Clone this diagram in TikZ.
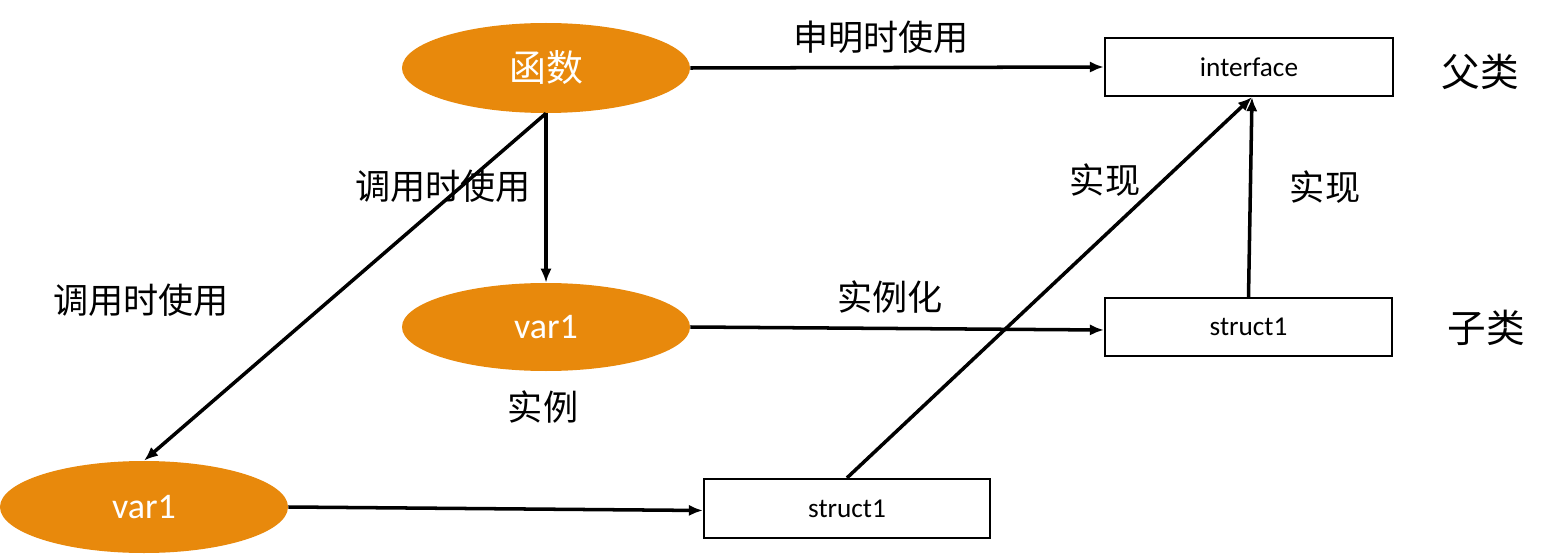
\documentclass[tikz,border=0pt]{standalone}
\usepackage{fontspec}
\setmainfont{Carlito}
\newfontfamily\cjk{Noto Sans CJK SC}
\usetikzlibrary{shapes.geometric,arrows.meta}
\definecolor{orng}{HTML}{E8890C}
\begin{document}
\begin{tikzpicture}[x=0.02cm,y=-0.02cm,
  ell/.style={ellipse,fill=orng,draw=none,inner sep=0pt,text=white},
  box/.style={rectangle,draw=black,line width=1.3pt,inner sep=0pt,font=\fontsize{15.5}{18}\selectfont},
  lbl/.style={font=\cjk\fontsize{20}{22}\selectfont},
  big/.style={font=\cjk\fontsize{22}{24}\selectfont},
  arr/.style={line width=2pt,-{Latex[length=8pt,width=6.5pt]}}]
\useasboundingbox (0,0) rectangle (1566,554);
\node[ell,minimum width=288*0.02cm,minimum height=90*0.02cm,font=\cjk\fontsize{21}{23}\selectfont] (fn) at (546,68) {函数};
\node[ell,minimum width=288*0.02cm,minimum height=88*0.02cm,font=\fontsize{20.5}{22}\selectfont] (v1) at (546,327) {var1};
\node[ell,minimum width=288*0.02cm,minimum height=92*0.02cm,font=\fontsize{20.5}{22}\selectfont] (v2) at (144,507) {var1};
\node[box,minimum width=288*0.02cm,minimum height=58*0.02cm] (itf) at (1249,67) {interface};
\node[box,minimum width=287*0.02cm,minimum height=58*0.02cm] (s1) at (1248.5,327) {struct1};
\node[box,minimum width=286*0.02cm,minimum height=59*0.02cm] (s2) at (847,508.5) {struct1};
\draw[arr] (fn.east) -- (itf.west);
\draw[arr] (fn.south) -- (v1.north);
\draw[arr] (fn.south) -- (v2.north);
\draw[arr] (v1.east) -- ([yshift=-3*0.02cm]s1.west);
\draw[arr] (v2.east) -- ([yshift=-2*0.02cm]s2.west);
\draw[arr] (s2.north) -- ([xshift=3*0.02cm]itf.south);
\draw[arr] (s1.north) -- ([xshift=3*0.02cm]itf.south);
\node[lbl] (l1) at (881,37) {申明时使用};
\node[lbl] (l2) at (443,186) {调用时使用};
\node[lbl] (l3) at (141,300) {调用时使用};
\node[lbl] (l4) at (890,297) {实例化};
\node[lbl] (l5) at (1105,180) {实现};
\node[lbl] (l6) at (1325,187) {实现};
\node[lbl] (l7) at (543,407) {实例};
\node[big] (l8) at (1480,72) {父类};
\node[big] (l9) at (1486,328) {子类};
\end{tikzpicture}
\end{document}
